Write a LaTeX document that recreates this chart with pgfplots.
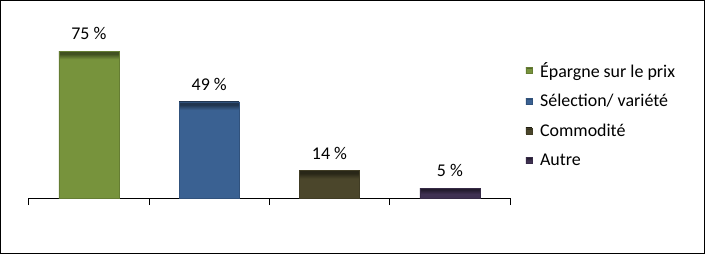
\documentclass[border=0pt]{standalone}
\usepackage{pgfplots}
\pgfplotsset{compat=1.18}
\usepackage{fontspec}
\setmainfont{Carlito}
\definecolor{cA}{HTML}{77933C}
\definecolor{cB}{HTML}{3A6192}
\definecolor{cC}{HTML}{4B462B}
\definecolor{cD}{HTML}{3F3152}
\colorlet{dA}{cA!55!black}
\colorlet{dB}{cB!55!black}
\colorlet{dC}{cC!55!black}
\colorlet{dD}{cD!55!black}
\pgfdeclareverticalshading{shA}{100bp}{color(0bp)=(cA); color(72.2bp)=(cA); color(74bp)=(dA); color(100bp)=(dA)}
\pgfdeclareverticalshading{shB}{100bp}{color(0bp)=(cB); color(70.8bp)=(cB); color(73.5bp)=(dB); color(100bp)=(dB)}
\pgfdeclareverticalshading{shC}{100bp}{color(0bp)=(cC); color(60.4bp)=(cC); color(70bp)=(dC); color(100bp)=(dC)}
\pgfdeclareverticalshading{shD}{100bp}{color(0bp)=(cD); color(46bp)=(cD); color(68bp)=(dD); color(100bp)=(dD)}
\begin{document}
\begin{tikzpicture}[x=1bp,y=1bp]
\useasboundingbox (0,0) rectangle (705,254);
\draw[black,line width=1bp] (0.5,0.5) rectangle (704.5,253.5);
\begin{axis}[
  at={(28.7bp,56bp)}, anchor=origin,
  scale only axis, width=481.3bp, height=186.2bp,
  xmin=0.5, xmax=4.5, ymin=0, ymax=95,
  axis lines*=left,
  y axis line style={draw=none},
  ytick=\empty,
  xtick={0.5,1.5,2.5,3.5,4.5},
  xticklabels={},
  tick align=outside,
  major tick length=7bp,
  x axis line style={black,line width=0.9bp},
  every tick/.style={black,line width=0.9bp},
  clip=false,
  ybar,
  bar width=60bp,
  nodes near coords={\pgfmathprintnumber{\pgfplotspointmeta}~\%},
  every node near coord/.append style={font=\fontsize{18}{20}\selectfont, black, inner sep=0pt, anchor=south, yshift=11bp, shade=false, fill=none, draw=none},
  legend style={at={(1.026,0.74)}, anchor=north west, draw=none, fill=none,
    font=\fontsize{18}{20}\selectfont, row sep=15.6bp,
    nodes={inner sep=0pt, outer sep=0pt},
    /tikz/every odd column/.append style={column sep=8bp}},
  legend cell align=left,
  legend image code/.code={\fill[#1] (0bp,-3bp) rectangle (6bp,3bp);},
  /pgf/number format/assume math mode=true,
]
\addplot[bar shift=0pt, fill=cA, draw=cA!85!black, shade, shading=shA] coordinates {(1,75)};
\addlegendentry{Épargne sur le prix}
\addplot[bar shift=0pt, fill=cB, draw=cB!85!black, shade, shading=shB] coordinates {(2,49)};
\addlegendentry{Sélection/ variété}
\addplot[bar shift=0pt, fill=cC, draw=cC!85!black, shade, shading=shC] coordinates {(3,14)};
\addlegendentry{Commodité}
\addplot[bar shift=0pt, fill=cD, draw=cD!85!black, shade, shading=shD] coordinates {(4,5)};
\addlegendentry{Autre}
\end{axis}
\end{tikzpicture}
\end{document}
